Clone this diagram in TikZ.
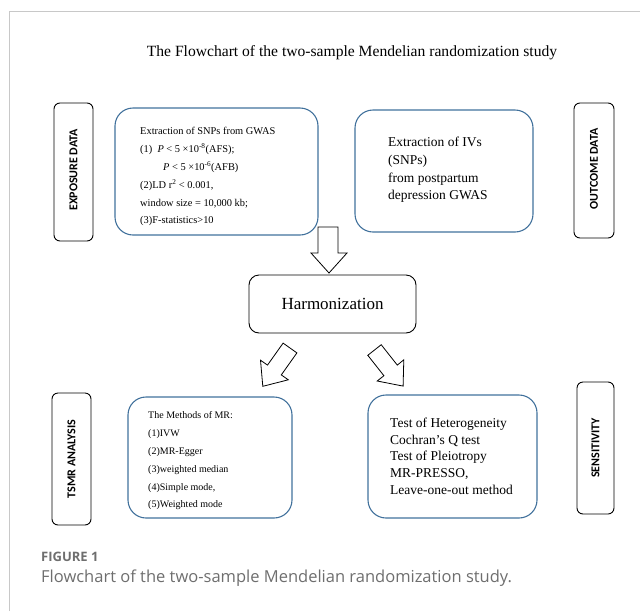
\documentclass[tikz,border=0pt]{standalone}
\usepackage{fontspec}
\setmainfont{Liberation Serif}
\newfontfamily\carl{Carlito}
\newfontfamily\opens{Open Sans}
\definecolor{boxblue}{HTML}{41719C}
\definecolor{capgray}{HTML}{6E6E6E}
\definecolor{framegray}{HTML}{C8C8C8}
\begin{document}
\begin{tikzpicture}[x=1pt,y=-1pt,
  sidebox/.style={draw=black,line width=0.9pt,rounded corners=6pt},
  sidelabel/.style={rotate=90,font=\carl\bfseries\fontsize{12}{14}\selectfont},
  bluebox/.style={draw=boxblue,line width=1.1pt,rounded corners=18pt},
  blockarrow/.style={draw=black,line width=0.8pt,fill=white,line join=miter},
  txt/.style={anchor=base west,inner sep=0pt}]
\useasboundingbox (0,0) rectangle (640,611);
% frame
\draw[framegray,line width=0.8pt] (9.5,611) -- (9.5,11.5) -- (640,11.5);
% title
\node[anchor=base,inner sep=0pt,font=\fontsize{15.6}{18}\selectfont] (title) at (352,56) {The Flowchart of the two-sample Mendelian randomization study};
% side labels
\draw[sidebox] (54,103) rectangle (93,241);
\node[sidelabel] (exp) at (73.5,170) {EXPOSURE DATA};
\draw[sidebox] (574,103) rectangle (614,238);
\node[sidelabel] (out) at (594,169) {OUTCOME DATA};
\draw[sidebox] (52,393) rectangle (91,525);
\node[sidelabel] (tsmr) at (71.5,459) {TSMR ANALYSIS};
\draw[sidebox] (577,382) rectangle (614,514);
\node[sidelabel] (sens) at (595.5,448) {SENSITIVITY};
% exposure content
\draw[bluebox] (115,108) rectangle (318,235);
\begin{scope}[every node/.style={txt,font=\fontsize{10.4}{12}\selectfont}]
\node (e1) at (140,134) {Extraction of SNPs from GWAS};
\node (e2) at (140,152) {(1)\ \ \textit{P} < 5 ×10\textsuperscript{-8}(AFS);};
\node (e3) at (163,170) {\textit{P} < 5 ×10\textsuperscript{-6}(AFB)};
\node (e4) at (140,188) {(2)LD r\textsuperscript{2} < 0.001,};
\node (e5) at (140,206) {window size = 10,000 kb;};
\node (e6) at (140,223) {(3)F-statistics>10};
\end{scope}
% outcome content
\draw[bluebox] (355,110) rectangle (533,232);
\begin{scope}[every node/.style={txt,font=\fontsize{13.5}{15}\selectfont}]
\node (o1) at (388,146) {Extraction of IVs};
\node (o2) at (388,164) {(SNPs)};
\node (o3) at (388,182) {from postpartum};
\node (o4) at (388,199) {depression GWAS};
\end{scope}
% down arrow
\draw[blockarrow] (318,227) -- (338,227) -- (338,253) -- (347,253) -- (329,273) -- (311,253) -- (318,253) -- cycle;
% harmonization
\node[draw=black,line width=0.9pt,rounded corners=10pt,minimum width=167pt,minimum height=58pt,inner sep=0pt,
  font=\fontsize{17}{19}\selectfont] (harm) at (332.5,304) {Harmonization};
% diagonal arrows
\draw[blockarrow] (283.1,343.1) -- (296.9,352.9) -- (281.3,374.9) -- (288.3,379.8) -- (262.8,386.3) -- (260.5,360.2) -- (267.5,365.1) -- cycle;
\draw[blockarrow] (367.8,355.3) -- (381.2,344.7) -- (397.3,365.1) -- (403.8,359.8) -- (403.1,386.1) -- (377.2,381.0) -- (383.9,375.7) -- cycle;
% methods box
\draw[bluebox] (128,397) rectangle (292,518);
\begin{scope}[every node/.style={txt,font=\fontsize{10}{12}\selectfont}]
\node (m1) at (148,418) {The Methods of MR:};
\node (m2) at (148,436) {(1)IVW};
\node (m3) at (148,454) {(2)MR-Egger};
\node (m4) at (148,472) {(3)weighted median};
\node (m5) at (148,490) {(4)Simple mode,};
\node (m6) at (148,507) {(5)Weighted mode};
\end{scope}
% sensitivity box
\draw[bluebox] (368,395) rectangle (537,518);
\begin{scope}[every node/.style={txt,font=\fontsize{13.5}{15}\selectfont}]
\node (s1) at (390,427) {Test of Heterogeneity};
\node (s2) at (390,444) {Cochran’s Q test};
\node (s3) at (390,460) {Test of Pleiotropy};
\node (s4) at (390,477) {MR-PRESSO,};
\node (s5) at (390,494) {Leave-one-out method};
\end{scope}
% caption
\node[txt,font=\opens\bfseries\fontsize{13}{15}\selectfont,text=capgray] (fig) at (41,561.5) {FIGURE 1};
\node[txt,font=\opens\fontsize{16.5}{19}\selectfont,text=capgray] (cap) at (41,582) {Flowchart of the two-sample Mendelian randomization study.};
\end{tikzpicture}
\end{document}
